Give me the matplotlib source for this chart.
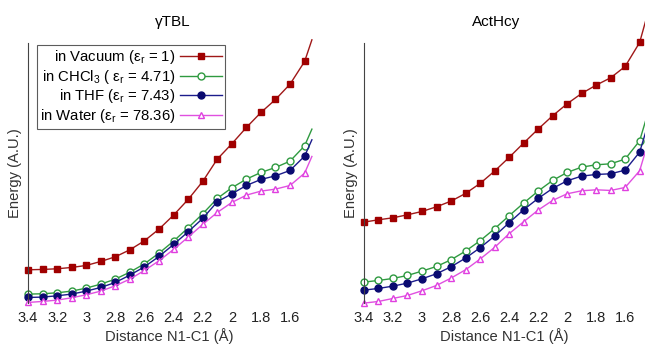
import matplotlib.pyplot as plt
import numpy as np

plt.rcParams['font.family'] = ['Liberation Sans', 'DejaVu Sans']
plt.rcParams['mathtext.fontset'] = 'custom'
plt.rcParams['mathtext.rm'] = 'Liberation Sans'
plt.rcParams['mathtext.it'] = 'Liberation Sans:italic'

# distance N1-C1 (A); last point is the end of the curve (no marker)
dist = [3.4, 3.3, 3.2, 3.1, 3.0, 2.9, 2.8, 2.7, 2.6, 2.5, 2.4, 2.3, 2.2, 2.1,
        2.0, 1.9, 1.8, 1.7, 1.6, 1.5, 1.45]

# gammaTBL energies (arbitrary units)
tbl_vac = [100, 101, 103, 107, 113, 125, 139, 160, 187, 222, 264, 311, 365, 432,
           478, 527, 572, 611, 657, 725, 790]
tbl_chcl3 = [27, 28, 31, 36, 45, 57, 72, 93, 118, 150, 186, 226, 268, 314,
             346, 372, 392, 407, 426, 472, 522]
tbl_thf = [17, 18, 22, 27, 36, 47, 62, 84, 109, 140, 176, 214, 254, 304,
           328, 353, 371, 382, 398, 441, 490]
tbl_water = [2, 5, 9, 16, 25, 36, 52, 72, 98, 127, 161, 198, 236, 272,
             302, 324, 336, 342, 353, 390, 440]

# ActHcy energies (arbitrary units)
act_vac = [243, 250, 256, 265, 275, 289, 306, 329, 359, 396, 437, 480, 522, 562,
           598, 629, 654, 676, 710, 782, 860]
act_chcl3 = [63, 68, 74, 83, 96, 110, 130, 156, 187, 223, 262, 300, 336, 368,
             392, 408, 415, 418, 432, 487, 560]
act_thf = [39, 44, 51, 60, 73, 88, 109, 135, 166, 201, 241, 280, 314, 344,
           367, 381, 386, 388, 399, 453, 525]
act_water = [0, 5, 14, 23, 37, 53, 75, 100, 132, 167, 208, 244, 279, 308,
             328, 337, 340, 338, 347, 397, 470]

labels = ['in Vacuum (ε$_\\mathrm{r}$ = 1)',
          'in CHCl$_\\mathrm{3}$ ( ε$_\\mathrm{r}$ = 4.71)',
          'in THF (ε$_\\mathrm{r}$ = 7.43)',
          'in Water (ε$_\\mathrm{r}$ = 78.36)']
ticks = [3.4, 3.2, 3.0, 2.8, 2.6, 2.4, 2.2, 2.0, 1.8, 1.6]
ticklabels = ['3.4', '3.2', '3', '2.8', '2.6', '2.4', '2.2', '2', '1.8', '1.6']

styles = [
    dict(color='#a01818', marker='s', mfc='#a00000', mec='#a00000', ms=4.5),
    dict(color='#2f9a40', marker='o', mfc='white', mec='#2f9a40', ms=5),
    dict(color='#1c1c8c', marker='o', mfc='#0a0a70', mec='#0a0a70', ms=5),
    dict(color='#e050e0', marker='^', mfc='white', mec='#e040e0', ms=5),
]

fig = plt.figure(figsize=(6.45, 3.48), dpi=100)
ax1 = fig.add_axes([0.0434, 0.129, 0.4388, 0.747])
ax2 = fig.add_axes([0.5643, 0.129, 0.4357, 0.747])


def draw(ax, series, title, xmax, tx):
    for y, st, lab in zip(series, styles, labels):
        ax.plot(dist, y, lw=1, markevery=list(range(len(dist) - 1)),
                label=lab, clip_on=False, **st)
    ax.set_xlim(3.4, xmax)
    ax.set_ylim(0, 780)
    ax.set_xticks(ticks)
    ax.set_xticklabels(ticklabels)
    ax.set_yticks([])
    ax.tick_params(axis='x', length=0, labelsize=10.5, pad=6, labelcolor='#222222')
    for s in ['top', 'right', 'bottom']:
        ax.spines[s].set_visible(False)
    ax.spines['left'].set_color('#444444')
    ax.spines['left'].set_linewidth(0.8)
    ax.set_xlabel('Distance N1-C1 (Å)', fontsize=10.6, color='#333333', labelpad=2)
    ax.set_ylabel('Energy (A.U.)', fontsize=10.6, color='#333333', labelpad=4)
    ax.set_title(title, fontsize=11, pad=12, x=tx)


draw(ax1, [tbl_vac, tbl_chcl3, tbl_thf, tbl_water], 'γTBL', 1.456, 0.51)
draw(ax2, [act_vac, act_chcl3, act_thf, act_water], 'ActHcy', 1.463, 0.47)

leg = ax1.legend(loc='upper left', bbox_to_anchor=(0.025, 1.0), markerfirst=False,
                 fontsize=10.7, frameon=True, fancybox=False, handlelength=2.8,
                 borderpad=0.25, labelspacing=0.1, handletextpad=0.3,
                 borderaxespad=0.1)
leg.get_frame().set_edgecolor('#333333')
leg.get_frame().set_linewidth(0.8)
for t in leg.get_texts():
    t.set_ha('right')
leg._legend_box.align = 'right'

fig.savefig('out.png', dpi=100)
